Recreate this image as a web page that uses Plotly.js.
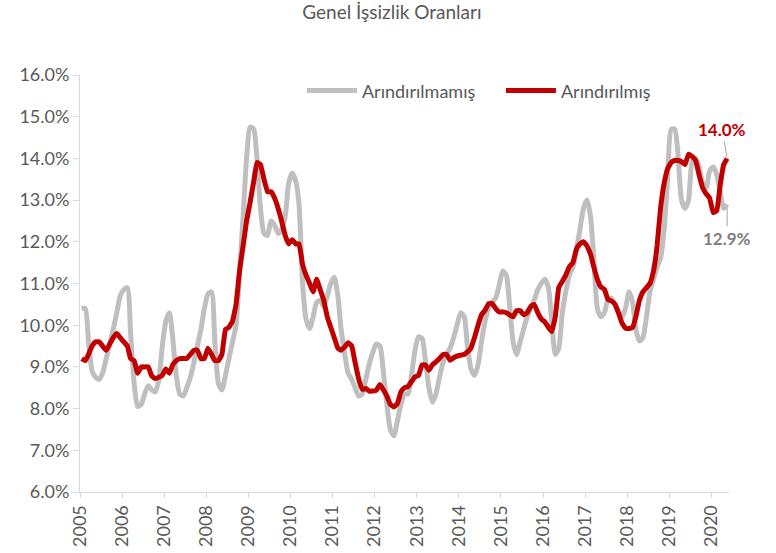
<!DOCTYPE html>
<html>
<head>
<meta charset="utf-8">
<script src="https://cdn.plot.ly/plotly-3.0.1.min.js"></script>
<style>html,body{margin:0;padding:0;background:#fff}#chart{width:776px;height:553px}</style>
</head>
<body>
<div id="chart"></div>
<script>
// Monthly data, Jan 2005 - May 2020
const startYear = 2005;
const tickYears = [2005,2006,2007,2008,2009,2010,2011,2012,2013,2014,2015,2016,2017,2018,2019,2020];

const unadjusted = [
  10.4,10.4,9.6,8.9,8.75,8.7,8.85,9.2,9.55,9.9,10.3,10.7,
  10.85,10.9,9.8,8.6,8.05,8.1,8.35,8.55,8.45,8.4,8.7,9.5,
  10.1,10.3,9.7,8.8,8.35,8.3,8.5,8.75,9.1,9.5,9.9,10.4,
  10.75,10.8,9.6,8.6,8.45,8.8,9.2,9.6,10.0,11.3,12.6,14.0,
  14.75,14.7,14.0,12.8,12.2,12.15,12.5,12.4,12.2,12.3,12.6,13.4,
  13.65,13.45,12.9,11.0,10.15,9.92,10.2,10.55,10.6,10.45,10.7,11.0,
  11.15,10.7,9.9,9.32,8.85,8.7,8.5,8.3,8.35,8.7,9.08,9.35,
  9.55,9.5,8.9,8.1,7.5,7.35,7.7,8.1,8.35,8.35,8.8,9.4,
  9.72,9.68,9.16,8.5,8.15,8.35,8.75,9.1,9.3,9.45,9.7,10.0,
  10.3,10.2,9.5,8.95,8.8,9.05,9.6,10.1,10.4,10.55,10.65,10.95,
  11.3,11.2,10.5,9.6,9.3,9.6,9.9,10.2,10.4,10.6,10.85,11.0,
  11.1,10.9,10.1,9.3,9.45,10.3,10.8,11.2,11.4,11.8,12.3,12.8,
  13.0,12.6,11.6,10.4,10.2,10.3,10.6,10.65,10.5,10.3,10.2,10.4,
  10.8,10.55,9.9,9.62,9.7,10.2,10.8,11.1,11.4,11.6,12.3,13.5,
  14.7,14.7,14.1,13.0,12.8,13.0,13.9,14.0,13.8,13.4,13.3,13.7,
  13.8,13.6,13.2,12.8,12.9
];

const adjusted = [
  9.2,9.15,9.3,9.5,9.6,9.6,9.5,9.4,9.55,9.7,9.8,9.7,
  9.6,9.5,9.2,9.15,8.85,9.0,9.0,9.0,8.78,8.72,8.75,8.8,
  8.95,8.85,9.05,9.15,9.2,9.2,9.2,9.3,9.4,9.4,9.2,9.2,
  9.45,9.3,9.15,9.15,9.3,9.9,9.95,10.1,10.5,11.3,11.9,12.5,
  12.95,13.45,13.9,13.85,13.5,13.2,13.2,13.05,12.8,12.5,12.15,11.95,
  12.05,11.95,11.95,11.45,11.2,11.0,10.8,11.1,10.85,10.6,10.2,9.95,
  9.7,9.45,9.4,9.48,9.58,9.5,9.1,8.7,8.46,8.48,8.42,8.42,
  8.44,8.58,8.45,8.3,8.1,8.04,8.12,8.4,8.5,8.53,8.65,8.76,
  8.8,9.05,9.05,8.92,9.05,9.12,9.2,9.3,9.3,9.16,9.22,9.26,
  9.28,9.3,9.36,9.45,9.7,10.0,10.25,10.36,10.52,10.52,10.4,10.32,
  10.32,10.3,10.25,10.2,10.35,10.35,10.25,10.3,10.45,10.5,10.3,10.15,
  10.08,9.95,9.85,10.2,10.9,11.05,11.2,11.4,11.5,11.82,11.95,12.0,
  11.9,11.7,11.4,11.1,10.92,10.86,10.62,10.58,10.5,10.3,10.05,9.93,
  9.92,9.95,10.2,10.6,10.8,10.9,11.0,11.3,11.9,12.8,13.4,13.75,
  13.9,13.95,13.95,13.92,13.85,14.1,14.05,13.95,13.6,13.3,13.15,13.05,
  12.7,12.75,13.35,13.85,14.0
];

const seriesNames = ['Arındırılmamış', 'Arındırılmış'];
const lastLabels = ['12.9%', '14.0%'];

// month categories (mid-month dates)
const months = unadjusted.map((_, i) => {
  const y = startYear + Math.floor(i / 12);
  const m = (i % 12) + 1;
  return y + '-' + String(m).padStart(2, '0') + '-16';
});
const lastX = months[months.length - 1];

const FONT = 'Lato, "Open Sans", sans-serif';
const TXT = '#595959';

const traces = [
  {x: months, y: unadjusted, name: seriesNames[0], type: 'scatter', mode: 'lines',
   line: {color: '#BFBFBF', width: 5, shape: 'spline', smoothing: 0.6}, hoverinfo: 'x+y'},
  {x: months, y: adjusted, name: seriesNames[1], type: 'scatter', mode: 'lines',
   line: {color: '#C00000', width: 5, shape: 'spline', smoothing: 0.3}, hoverinfo: 'x+y'}
];

const layout = {
  width: 776, height: 553,
  margin: {l: 80, r: 47, t: 75, b: 61, pad: 0},
  paper_bgcolor: '#ffffff', plot_bgcolor: '#ffffff',
  font: {family: FONT, color: TXT, size: 18},
  title: {text: 'Genel İşsizlik Oranları', font: {family: FONT, size: 19, color: TXT},
          x: 0.505, xanchor: 'center', y: 0.978, yanchor: 'middle'},
  showlegend: true,
  legend: {orientation: 'h', x: 0.342, xanchor: 'left', y: 0.962, yanchor: 'middle',
           font: {family: FONT, size: 18, color: TXT}, bgcolor: 'rgba(0,0,0,0)',
           itemwidth: 50, entrywidth: 134, entrywidthmode: 'pixels', traceorder: 'normal'},
  xaxis: {
    type: 'date', range: ['2005-01-01', '2020-06-01'],
    tickmode: 'array', tickvals: tickYears.map(y => y + '-01-01'), ticktext: tickYears.map(String),
    tickangle: -90, ticks: 'outside', ticklen: 5, tickcolor: '#D9D9D9', tickwidth: 1,
    showline: true, linecolor: '#D9D9D9', linewidth: 1, showgrid: false, zeroline: false,
    tickfont: {family: FONT, size: 18, color: TXT}, fixedrange: true
  },
  yaxis: {
    range: [6, 16], dtick: 1, tick0: 6, tickformat: '.1f', ticksuffix: '%',
    ticks: 'outside', ticklen: 6, tickcolor: '#D9D9D9', tickwidth: 1,
    showline: true, linecolor: '#D9D9D9', linewidth: 1, showgrid: false, zeroline: false,
    tickfont: {family: FONT, size: 18, color: TXT}, fixedrange: true
  },
  annotations: [
    {x: lastX, y: adjusted[adjusted.length - 1], xref: 'x', yref: 'y', text: '<b>' + lastLabels[1] + '</b>',
     showarrow: true, arrowhead: 0, arrowwidth: 1, arrowcolor: '#A6A6A6', ax: -5, ay: -29, standoff: 2,
     font: {family: FONT, size: 17, color: '#C00000'}},
    {x: lastX, y: unadjusted[unadjusted.length - 1], xref: 'x', yref: 'y', text: '<b>' + lastLabels[0] + '</b>',
     showarrow: true, arrowhead: 0, arrowwidth: 1, arrowcolor: '#A6A6A6', ax: 0, ay: 34, standoff: 4,
     font: {family: FONT, size: 17, color: '#808080'}}
  ]
};

Plotly.newPlot('chart', traces, layout, {displayModeBar: false, staticPlot: true});
</script>
</body>
</html>
